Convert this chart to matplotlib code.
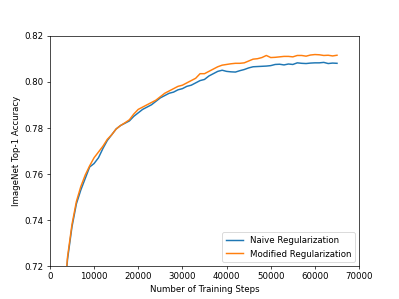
import matplotlib
matplotlib.use("Agg")
import matplotlib.pyplot as plt

steps = [3000, 4000, 5000, 6000, 7000, 8000, 9000, 10000, 11000, 12000,
         13000, 14000, 15000, 16000, 17000, 18000, 19000, 20000, 21000, 22000,
         23000, 24000, 25000, 26000, 27000, 28000, 29000, 30000, 31000, 32000,
         33000, 34000, 35000, 36000, 37000, 38000, 39000, 40000, 41000, 42000,
         43000, 44000, 45000, 46000, 47000, 48000, 49000, 50000, 51000, 52000,
         53000, 54000, 55000, 56000, 57000, 58000, 59000, 60000, 61000, 62000,
         63000, 64000, 65000]

naive = [0.700, 0.723, 0.737, 0.747, 0.753, 0.758, 0.763, 0.7645, 0.767, 0.771,
         0.7745, 0.777, 0.7795, 0.781, 0.782, 0.783, 0.785, 0.7865, 0.788, 0.789,
         0.790, 0.7915, 0.793, 0.794, 0.795, 0.7955, 0.7965, 0.797, 0.798, 0.7985,
         0.7995, 0.8005, 0.801, 0.8025, 0.8035, 0.8045, 0.805, 0.8045, 0.8043, 0.8042,
         0.8048, 0.8053, 0.806, 0.8065, 0.8066, 0.8067, 0.8068, 0.807, 0.8075, 0.8076,
         0.8073, 0.8077, 0.8075, 0.8082, 0.808, 0.8079, 0.8081, 0.8082, 0.8082, 0.8084,
         0.8079, 0.8081, 0.8080]

modified = [0.700, 0.724, 0.738, 0.748, 0.7545, 0.7595, 0.7635, 0.767, 0.7695, 0.772,
            0.775, 0.777, 0.7795, 0.781, 0.7822, 0.7835, 0.786, 0.788, 0.789, 0.790,
            0.791, 0.792, 0.7935, 0.795, 0.796, 0.797, 0.798, 0.7985, 0.7995, 0.8005,
            0.8015, 0.8035, 0.8035, 0.8045, 0.8055, 0.8065, 0.8072, 0.8075, 0.8078, 0.808,
            0.808, 0.8082, 0.809, 0.8098, 0.810, 0.8105, 0.8114, 0.8105, 0.8106, 0.8108,
            0.811, 0.811, 0.8108, 0.8114, 0.8114, 0.8111, 0.8116, 0.8118, 0.8117, 0.8114,
            0.8115, 0.8112, 0.8115]

fig, ax = plt.subplots(figsize=(6.4, 4.8), dpi=399 / 6.4)
ax.plot(steps, naive, label="Naive Regularization", lw=1.7)
ax.plot(steps, modified, label="Modified Regularization", lw=1.7)
ax.set_xlim(0, 70000)
ax.set_ylim(0.72, 0.82)
ax.set_xlabel("Number of Training Steps")
ax.set_ylabel("ImageNet Top-1 Accuracy")
ax.legend(loc="lower right")
fig.savefig("out.png", dpi=399 / 6.4)
